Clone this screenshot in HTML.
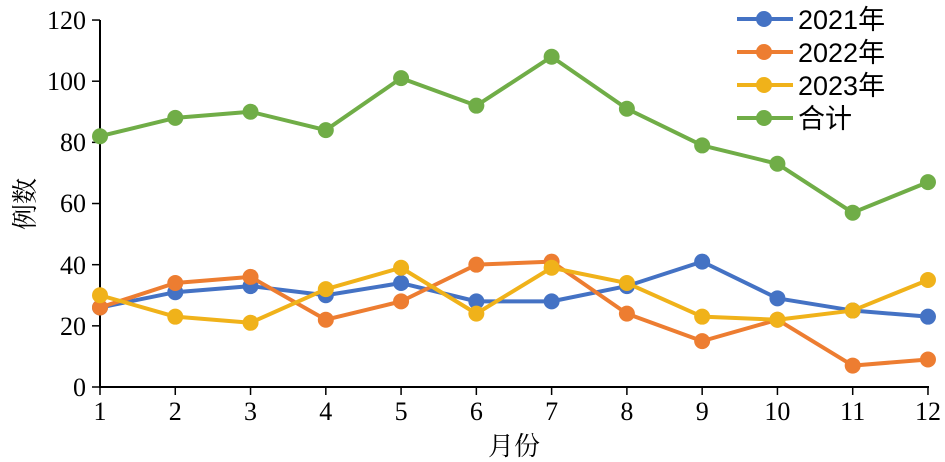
<!DOCTYPE html>
<html><head><meta charset="utf-8"><style>
html,body{margin:0;padding:0;background:#fff;width:945px;height:462px;overflow:hidden}
text{font-family:"Liberation Serif","Noto Serif CJK SC",serif;fill:#000}
.lg text{font-family:"Liberation Sans","Noto Sans CJK SC",sans-serif}
</style></head><body>
<svg width="945" height="462" viewBox="0 0 945 462" xmlns="http://www.w3.org/2000/svg">
<g stroke="#000" stroke-width="2" fill="none">
<line x1="100" y1="20" x2="100" y2="388"/>
<line x1="99" y1="387" x2="929" y2="387"/>
</g>
<g id="ticks" stroke="#000" stroke-width="1.5"></g>
<g font-size="26" text-anchor="end">
<text x="86" y="396">0</text>
<text x="86" y="335">20</text>
<text x="86" y="274">40</text>
<text x="86" y="212">60</text>
<text x="86" y="151">80</text>
<text x="86" y="90">100</text>
<text x="86" y="29">120</text>
</g>
<g font-size="26" text-anchor="middle">
<text x="100" y="420">1</text>
<text x="175.3" y="420">2</text>
<text x="250.5" y="420">3</text>
<text x="325.8" y="420">4</text>
<text x="401.1" y="420">5</text>
<text x="476.4" y="420">6</text>
<text x="551.6" y="420">7</text>
<text x="626.9" y="420">8</text>
<text x="702.2" y="420">9</text>
<text x="777.4" y="420">10</text>
<text x="852.7" y="420">11</text>
<text x="928" y="420">12</text>
</g>
<text x="514" y="455" font-size="26" text-anchor="middle">月份</text>
<text transform="translate(34,204) rotate(-90)" font-size="26" text-anchor="middle">例数</text>
<g id="series"></g>
<g class="lg" font-size="27">
<line x1="737" y1="19" x2="793" y2="19" stroke="#4472C4" stroke-width="4"/><circle cx="764" cy="19" r="8" fill="#4472C4"/>
<text x="798" y="29">2021年</text>
<line x1="737" y1="52" x2="793" y2="52" stroke="#ED7D31" stroke-width="4"/><circle cx="764" cy="52" r="8" fill="#ED7D31"/>
<text x="798" y="62">2022年</text>
<line x1="737" y1="85" x2="793" y2="85" stroke="#F0B21A" stroke-width="4"/><circle cx="764" cy="85" r="8" fill="#F0B21A"/>
<text x="798" y="95">2023年</text>
<line x1="737" y1="118" x2="793" y2="118" stroke="#70AD47" stroke-width="4"/><circle cx="764" cy="118" r="8" fill="#70AD47"/>
<text x="798" y="128">合计</text>
</g>
</svg>
<script>
var NS="http://www.w3.org/2000/svg",s=document.getElementById("series"),tk=document.getElementById("ticks");
function X(i){return 100+i*75.27}function Y(v){return 387-v*3.058}
function el(p,t,a){var e=document.createElementNS(NS,t);for(var k in a)e.setAttribute(k,a[k]);p.appendChild(e);return e}
for(var i=0;i<12;i++)el(tk,"line",{x1:X(i),y1:387,x2:X(i),y2:395});
for(var v=0;v<=120;v+=20)el(tk,"line",{x1:92,y1:Y(v),x2:100,y2:Y(v)});
var D=[["#4472C4",[26,31,33,30,34,28,28,33,41,29,25,23]],["#ED7D31",[26,34,36,22,28,40,41,24,15,22,7,9]],["#F0B21A",[30,23,21,32,39,24,39,34,23,22,25,35]],["#70AD47",[82,88,90,84,101,92,108,91,79,73,57,67]]];
D.forEach(function(d){var pts=d[1].map(function(v,i){return X(i)+","+Y(v)}).join(" ");el(s,"polyline",{points:pts,fill:"none",stroke:d[0],"stroke-width":4,"stroke-linejoin":"round"});d[1].forEach(function(v,i){el(s,"circle",{cx:X(i),cy:Y(v),r:8,fill:d[0]})})});
</script>
</body></html>
